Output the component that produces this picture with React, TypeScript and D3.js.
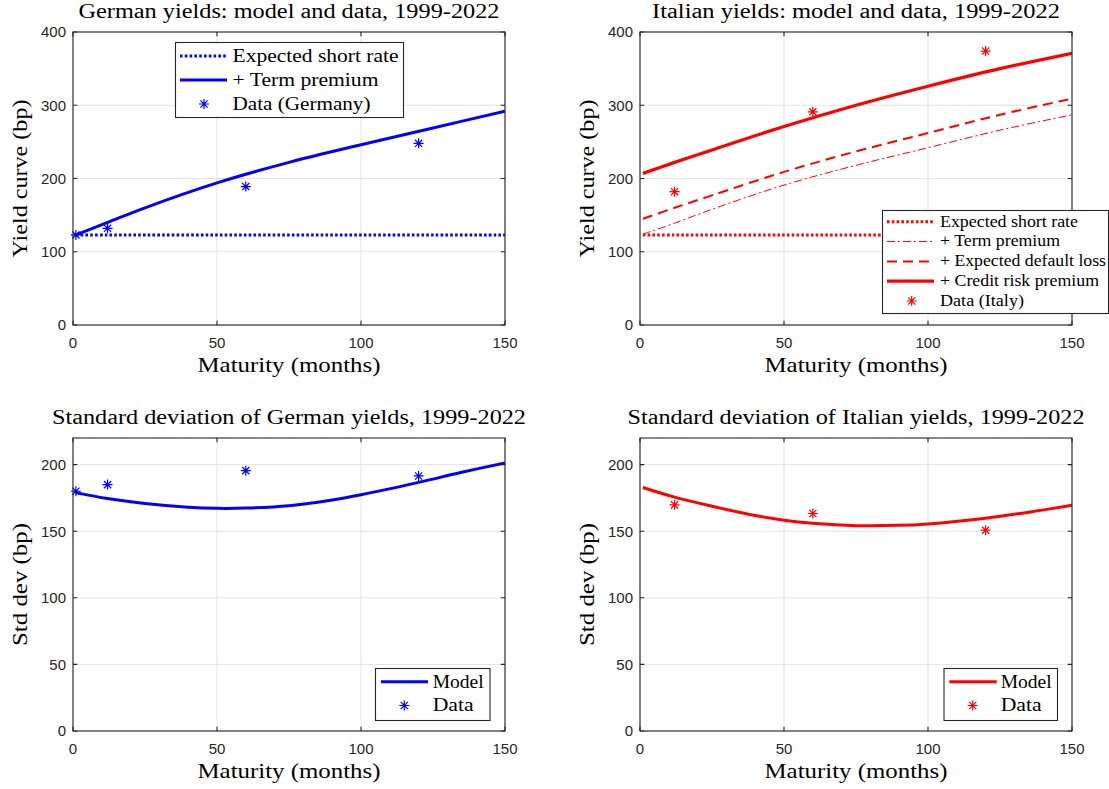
import React, { useRef, useEffect } from "react";
import * as d3 from "d3";

const maturities = [1, 12, 25, 50, 75, 100, 125, 150];
const deShortRate = [123, 123, 123, 123, 123, 123, 123, 123];
const deTermPremium = [123, 140, 160, 194, 222, 246, 269, 292];
const deDataMaturities = [1, 12, 60, 120];
const deDataYields = [123, 132, 189, 248];

const itShortRate = [123, 123, 123, 123, 123, 123, 123, 123];
const itTermPremium = [124, 139, 158, 191, 218, 242, 266, 287];
const itDefaultLoss = [145, 160, 177, 209, 237, 262, 287, 309];
const itCreditRisk = [207, 222, 239, 271, 300, 326, 350, 371];
const itDataMaturities = [12, 60, 120];
const itDataYields = [182, 291, 374];

const stdMaturities = [1, 12, 25, 40, 50, 60, 75, 90, 100, 120, 135, 150];
const deStdModel = [179, 174.5, 170.8, 168, 167.2, 167.4, 169.2, 173.5, 177.4, 186.7, 194.3, 201.3];
const deStdData = [180, 185, 195.5, 191.5];
const itStdModel = [182.8, 175.6, 168.8, 161.8, 158.3, 156, 154.2, 154.4, 155.5, 159.8, 164.3, 169.6];
const itStdData = [169.8, 163.3, 150.8];

const maturityTicks = [0, 50, 100, 150];
const yieldTicks = [0, 100, 200, 300, 400];
const stdTicks = [0, 50, 100, 150, 200];

const BLUE = "#0000ff";
const RED = "#ff0000";
const AXIS = "#262626";
const GRID = "#e3e3e3";
const SERIF = "'Liberation Serif', 'Times New Roman', serif";
const SANS = "'Liberation Sans', Arial, sans-serif";

const DOTTED = "2.6,2.2";
const DASHED = "10,6";
const DASHDOT = "8,3,2,3";

function starPath(r) {
    const d = r * 0.72;
    return `M0,${-r}L0,${r}M${-r},0L${r},0M${-d},${-d}L${d},${d}M${-d},${d}L${d},${-d}`;
}

function addText(g, o) {
    const t = g.append("text")
        .attr("x", o.x)
        .attr("y", o.y)
        .attr("font-family", o.family || SERIF)
        .attr("font-size", o.size)
        .attr("fill", o.color || "#000")
        .attr("text-anchor", o.anchor || "start")
        .text(o.text);
    if (o.width) t.attr("textLength", o.width).attr("lengthAdjust", "spacingAndGlyphs");
    if (o.rotate) t.attr("transform", `rotate(-90, ${o.x}, ${o.y})`);
    return t;
}

const panels = [
    {
        id: "de-yield", left: 73, top: 32, bottom: 325, yMax: 400, yTicks: yieldTicks,
        title: "German yields: model and data, 1999-2022", titleW: 421,
        yLabel: "Yield curve (bp)", yLabelW: 158,
        series: [
            { xs: maturities, ys: deShortRate, color: BLUE, width: 3, dash: DOTTED },
            { xs: maturities, ys: deTermPremium, color: BLUE, width: 3 },
        ],
        points: { xs: deDataMaturities, ys: deDataYields, color: BLUE },
        legend: {
            x: 175.5, y: 42.5, w: 228, h: 75, size: 19.5, sx0: 180, sx1: 227, starX: 204, textX: 232.5,
            rows: [
                { y: 56, label: "Expected short rate", tw: 166, width: 3, dash: DOTTED },
                { y: 80, label: "+ Term premium", tw: 146, width: 3 },
                { y: 104, label: "Data (Germany)", tw: 138, star: true },
            ],
            color: BLUE,
        },
    },
    {
        id: "it-yield", left: 640, top: 32, bottom: 325, yMax: 400, yTicks: yieldTicks,
        title: "Italian yields: model and data, 1999-2022", titleW: 408,
        yLabel: "Yield curve (bp)", yLabelW: 158,
        series: [
            { xs: maturities, ys: itShortRate, color: RED, width: 3, dash: DOTTED },
            { xs: maturities, ys: itTermPremium, color: RED, width: 1, dash: DASHDOT },
            { xs: maturities, ys: itDefaultLoss, color: RED, width: 2, dash: DASHED },
            { xs: maturities, ys: itCreditRisk, color: RED, width: 3.2 },
        ],
        points: { xs: itDataMaturities, ys: itDataYields, color: RED },
        legend: {
            x: 882.5, y: 210.5, w: 226, h: 103, size: 16, sx0: 887, sx1: 934, starX: 911.7, textX: 940,
            rows: [
                { y: 221.7, label: "Expected short rate", tw: 138, width: 3, dash: DOTTED },
                { y: 241.5, label: "+ Term premium", tw: 120, width: 1, dash: DASHDOT },
                { y: 261.4, label: "+ Expected default loss", tw: 166, width: 2, dash: DASHED },
                { y: 281.2, label: "+ Credit risk premium", tw: 159, width: 3.2 },
                { y: 301, label: "Data (Italy)", tw: 84, star: true },
            ],
            color: RED,
        },
    },
    {
        id: "de-std", left: 73, top: 438, bottom: 731, yMax: 220, yTicks: stdTicks,
        title: "Standard deviation of German yields, 1999-2022", titleW: 474,
        yLabel: "Std dev (bp)", yLabelW: 123,
        series: [{ xs: stdMaturities, ys: deStdModel, color: BLUE, width: 3 }],
        points: { xs: deDataMaturities, ys: deStdData, color: BLUE },
        legend: {
            x: 375.5, y: 668.5, w: 114.5, h: 52, size: 19.5, sx0: 381, sx1: 428, starX: 404.3, textX: 432.7,
            rows: [
                { y: 681.7, label: "Model", tw: 51, width: 3 },
                { y: 705.5, label: "Data", tw: 41, star: true },
            ],
            color: BLUE,
        },
    },
    {
        id: "it-std", left: 640, top: 438, bottom: 731, yMax: 220, yTicks: stdTicks,
        title: "Standard deviation of Italian yields, 1999-2022", titleW: 457,
        yLabel: "Std dev (bp)", yLabelW: 123,
        series: [{ xs: stdMaturities, ys: itStdModel, color: RED, width: 3 }],
        points: { xs: itDataMaturities, ys: itStdData, color: RED },
        legend: {
            x: 944, y: 668.5, w: 113.5, h: 52, size: 19.5, sx0: 949.3, sx1: 996.7, starX: 972.7, textX: 1000.7,
            rows: [
                { y: 681.7, label: "Model", tw: 51, width: 3 },
                { y: 705.5, label: "Data", tw: 41, star: true },
            ],
            color: RED,
        },
    },
];

function drawPanel(svg, p) {
    const width = 432;
    const x = d3.scaleLinear().domain([0, 150]).range([p.left, p.left + width]);
    const y = d3.scaleLinear().domain([0, p.yMax]).range([p.bottom, p.top]);
    const g = svg.append("g").attr("class", p.id);

    // grid
    g.selectAll(".gx").data(maturityTicks).join("line")
        .attr("x1", d => x(d)).attr("x2", d => x(d))
        .attr("y1", p.top).attr("y2", p.bottom)
        .attr("stroke", GRID).attr("stroke-width", 1);
    g.selectAll(".gy").data(p.yTicks).join("line")
        .attr("x1", p.left).attr("x2", p.left + width)
        .attr("y1", d => y(d)).attr("y2", d => y(d))
        .attr("stroke", GRID).attr("stroke-width", 1);

    // model lines
    svg.append("clipPath").attr("id", `clip-${p.id}`)
        .append("rect")
        .attr("x", p.left).attr("y", p.top)
        .attr("width", width).attr("height", p.bottom - p.top);
    const lines = g.append("g").attr("clip-path", `url(#clip-${p.id})`);
    p.series.forEach(s => {
        const line = d3.line()
            .x((d, i) => x(s.xs[i]))
            .y(d => y(d))
            .curve(d3.curveCatmullRom.alpha(0.5));
        lines.append("path")
            .attr("d", line(s.ys))
            .attr("fill", "none")
            .attr("stroke", s.color)
            .attr("stroke-width", s.width)
            .attr("stroke-dasharray", s.dash || null);
    });

    // data markers
    g.selectAll(".mk").data(p.points.ys).join("path")
        .attr("transform", (d, i) => `translate(${x(p.points.xs[i])},${y(d)})`)
        .attr("d", starPath(5))
        .attr("fill", "none")
        .attr("stroke", p.points.color)
        .attr("stroke-width", 1.2);

    // box + inward ticks
    g.append("rect")
        .attr("x", p.left).attr("y", p.top)
        .attr("width", width).attr("height", p.bottom - p.top)
        .attr("fill", "none").attr("stroke", AXIS).attr("stroke-width", 1.1);
    const tl = 4.3;
    g.selectAll(".tyl").data(p.yTicks).join("path")
        .attr("d", d => `M${p.left},${y(d)}h${tl}M${p.left + width},${y(d)}h${-tl}`)
        .attr("stroke", AXIS).attr("stroke-width", 1.1);
    g.selectAll(".txl").data(maturityTicks).join("path")
        .attr("d", d => `M${x(d)},${p.bottom}v${-tl}M${x(d)},${p.top}v${tl}`)
        .attr("stroke", AXIS).attr("stroke-width", 1.1);

    // tick labels
    g.selectAll(".ylab").data(p.yTicks).join("text")
        .attr("x", p.left - 7).attr("y", d => y(d) + 5.3)
        .attr("text-anchor", "end")
        .attr("font-family", SANS).attr("font-size", 15).attr("fill", AXIS)
        .text(d => d);
    g.selectAll(".xlab").data(maturityTicks).join("text")
        .attr("x", d => x(d)).attr("y", p.bottom + 23)
        .attr("text-anchor", "middle")
        .attr("font-family", SANS).attr("font-size", 15).attr("fill", AXIS)
        .text(d => d);

    // titles and axis labels
    const cx = p.left + width / 2;
    addText(g, { x: cx, y: p.top - 14.5, text: p.title, size: 20, width: p.titleW, anchor: "middle" });
    addText(g, { x: cx, y: p.bottom + 46.5, text: "Maturity (months)", size: 22, width: 183, anchor: "middle" });
    addText(g, { x: p.left - 46.5, y: (p.top + p.bottom) / 2, text: p.yLabel, size: 22, width: p.yLabelW, anchor: "middle", rotate: true });

    // legend
    const L = p.legend;
    const lg = g.append("g").attr("class", "legend");
    lg.append("rect")
        .attr("x", L.x).attr("y", L.y).attr("width", L.w).attr("height", L.h)
        .attr("fill", "#fff").attr("stroke", AXIS).attr("stroke-width", 1.1);
    L.rows.forEach(r => {
        if (r.star) {
            lg.append("path")
                .attr("transform", `translate(${L.starX},${r.y})`)
                .attr("d", starPath(5))
                .attr("fill", "none").attr("stroke", L.color).attr("stroke-width", 1.2);
        } else {
            lg.append("line")
                .attr("x1", L.sx0).attr("x2", L.sx1).attr("y1", r.y).attr("y2", r.y)
                .attr("stroke", L.color).attr("stroke-width", r.width)
                .attr("stroke-dasharray", r.dash || null);
        }
        addText(lg, { x: L.textX, y: r.y + L.size * 0.3, text: r.label, size: L.size, width: r.tw });
    });
}

function App() {
    const svgRef = useRef(null);

    useEffect(() => {
        const svg = d3.select(svgRef.current);
        svg.selectAll("*").remove();
        svg.append("rect").attr("width", 1109).attr("height", 789).attr("fill", "#fff");
        panels.forEach(p => drawPanel(svg, p));
    }, []);

    return (
        <svg
            ref={svgRef}
            width={1109}
            height={789}
            style={{ position: "absolute", left: 0, top: 0, display: "block" }}
        ></svg>
    );
}

export default App;
